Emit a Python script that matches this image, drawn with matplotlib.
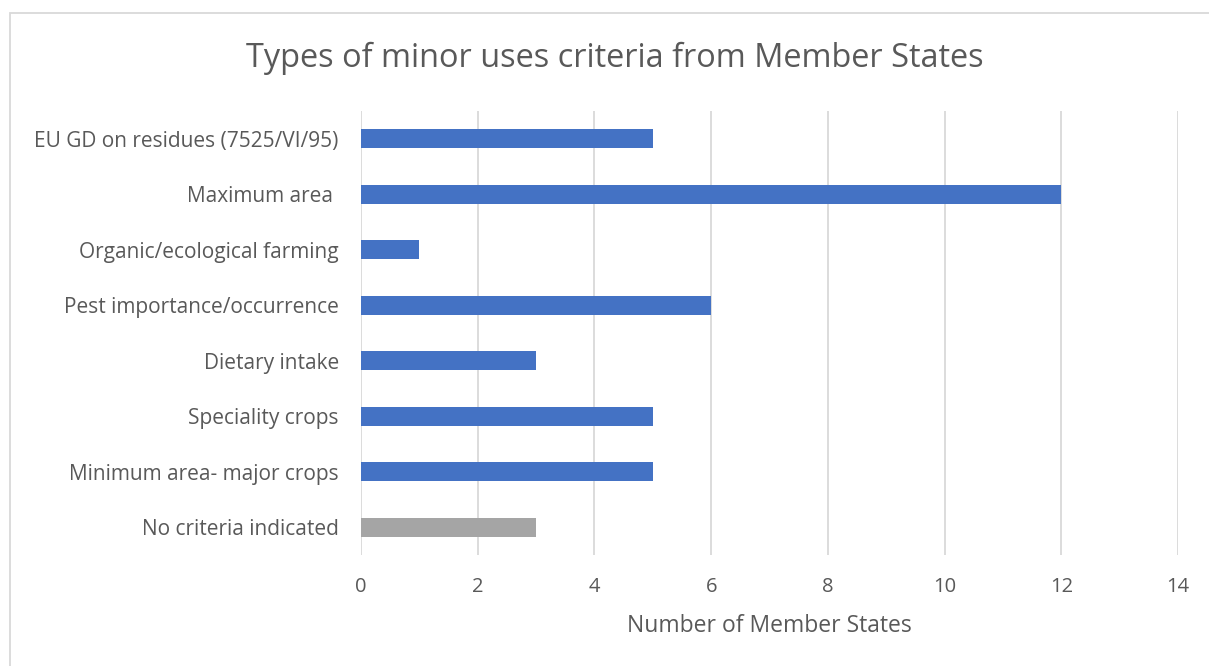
import matplotlib.pyplot as plt
from matplotlib.patches import Rectangle

plt.rcParams['font.family'] = ['Open Sans', 'DejaVu Sans']

criteria = [
    "EU GD on residues (7525/VI/95)",
    "Maximum area ",
    "Organic/ecological farming",
    "Pest importance/occurrence",
    "Dietary intake",
    "Speciality crops",
    "Minimum area- major crops",
    "No criteria indicated",
]
member_states = [5, 12, 1, 6, 3, 5, 5, 3]
bar_colors = ["#4472C4"] * 7 + ["#A5A5A5"]

TEXT = "#595959"

fig = plt.figure(figsize=(12.09, 6.66), dpi=100)
ax = fig.add_axes([361 / 1209, 1 - 555 / 666, (1178 - 361) / 1209, (555 - 111) / 666])

ypos = list(range(len(criteria)))
ax.barh(ypos, member_states, height=0.34, color=bar_colors, zorder=3)
ax.set_ylim(len(criteria) - 0.5, -0.5)
ax.set_yticks(ypos)
ax.set_yticklabels(criteria, fontsize=15, color=TEXT)
ax.set_xlim(0, 14)
ax.set_xticks(range(0, 15, 2))
ax.tick_params(axis='x', labelsize=14.5, labelcolor=TEXT, length=0, pad=16)
ax.tick_params(axis='y', length=0, pad=16)
ax.grid(axis='x', color="#D9D9D9", linewidth=1.3, zorder=0)
for s in ax.spines.values():
    s.set_visible(False)

ax.set_xlabel("Number of Member States", fontsize=16.5, color=TEXT, labelpad=12)
fig.text(615 / 1209, 1 - 58 / 666, "Types of minor uses criteria from Member States",
         fontsize=23.4, color=TEXT, ha='center', va='center')

# outer chart frame
fig.patches.append(Rectangle((10 / 1209, -0.01), 1.02, 1 - 13 / 666 + 0.01,
                             transform=fig.transFigure, fill=False,
                             edgecolor="#D9D9D9", linewidth=1.3))

fig.savefig("out.png", dpi=100)
